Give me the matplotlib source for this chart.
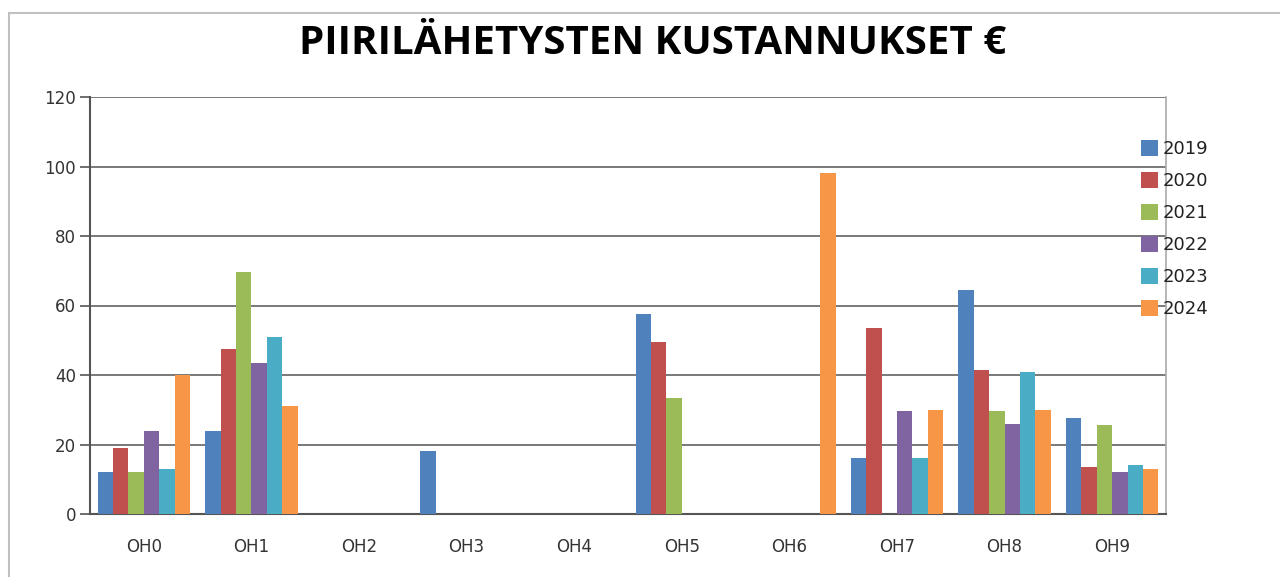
import numpy as np
import matplotlib
matplotlib.use('Agg')
import matplotlib.pyplot as plt
from matplotlib.patches import Rectangle

categories = ['OH0', 'OH1', 'OH2', 'OH3', 'OH4', 'OH5', 'OH6', 'OH7', 'OH8', 'OH9']
years = ['2019', '2020', '2021', '2022', '2023', '2024']
v2019 = [12, 24, 0, 18, 0, 57.5, 0, 16, 64.5, 27.5]
v2020 = [19, 47.5, 0, 0, 0, 49.5, 0, 53.5, 41.5, 13.5]
v2021 = [12, 69.5, 0, 0, 0, 33.5, 0, 0, 29.5, 25.5]
v2022 = [24, 43.5, 0, 0, 0, 0, 0, 29.5, 26, 12]
v2023 = [13, 51, 0, 0, 0, 0, 0, 16, 41, 14]
v2024 = [40, 31, 0, 0, 0, 0, 98, 30, 30, 13]
series = [v2019, v2020, v2021, v2022, v2023, v2024]
colors = ['#4F81BD', '#C0504D', '#9BBB59', '#8064A2', '#4BACC6', '#F79646']

plt.rcParams['font.family'] = 'DejaVu Sans'
fig = plt.figure(figsize=(12.8, 5.77), dpi=100)
ax = fig.add_axes([90/1280, 63/577, 1076/1280, 417/577])

x = np.arange(len(categories))
w = 0.143
for i, (vals, c, lab) in enumerate(zip(series, colors, years)):
    ax.bar(x + (i - 2.5)*w, vals, w, color=c, label=lab, zorder=3)

ax.set_xlim(-0.5, len(categories) - 0.5)
ax.set_ylim(0, 120)
ax.set_yticks(range(0, 121, 20))
ax.set_xticks(x)
ax.set_xticklabels(categories)
ax.yaxis.grid(True, color='#6e6e6e', linewidth=1.3, zorder=0)
ax.tick_params(axis='y', length=7, width=1.2, color='#555555', labelsize=12, pad=3,
               labelcolor='#333333')
ax.tick_params(axis='x', length=0, labelsize=12, pad=17, labelcolor='#333333')
for s in ['left', 'bottom']:
    ax.spines[s].set_color('#555555')
    ax.spines[s].set_linewidth(1.5)
ax.spines['top'].set_visible(False)
ax.spines['right'].set_color('#aaaaaa')
ax.spines['right'].set_linewidth(1.2)

fig.text(653/1280, 1 - 43/577, 'PIIRILÄHETYSTEN KUSTANNUKSET €', ha='center', va='center',
         fontsize=29, fontweight='bold', family='Open Sans')

fig.legend(loc='upper left', bbox_to_anchor=(1132/1280, 1 - 131/577), frameon=False,
           fontsize=13, handlelength=0.95, handleheight=0.95, handletextpad=0.25,
           labelspacing=0.78, borderpad=0, labelcolor='#222222')

fig.patches.append(Rectangle((9/1280, -0.2), 1.5, 1.2 - 13/577, transform=fig.transFigure,
                             fill=False, edgecolor='#c0c0c0', linewidth=1.5))

fig.savefig('out.png', dpi=100)
